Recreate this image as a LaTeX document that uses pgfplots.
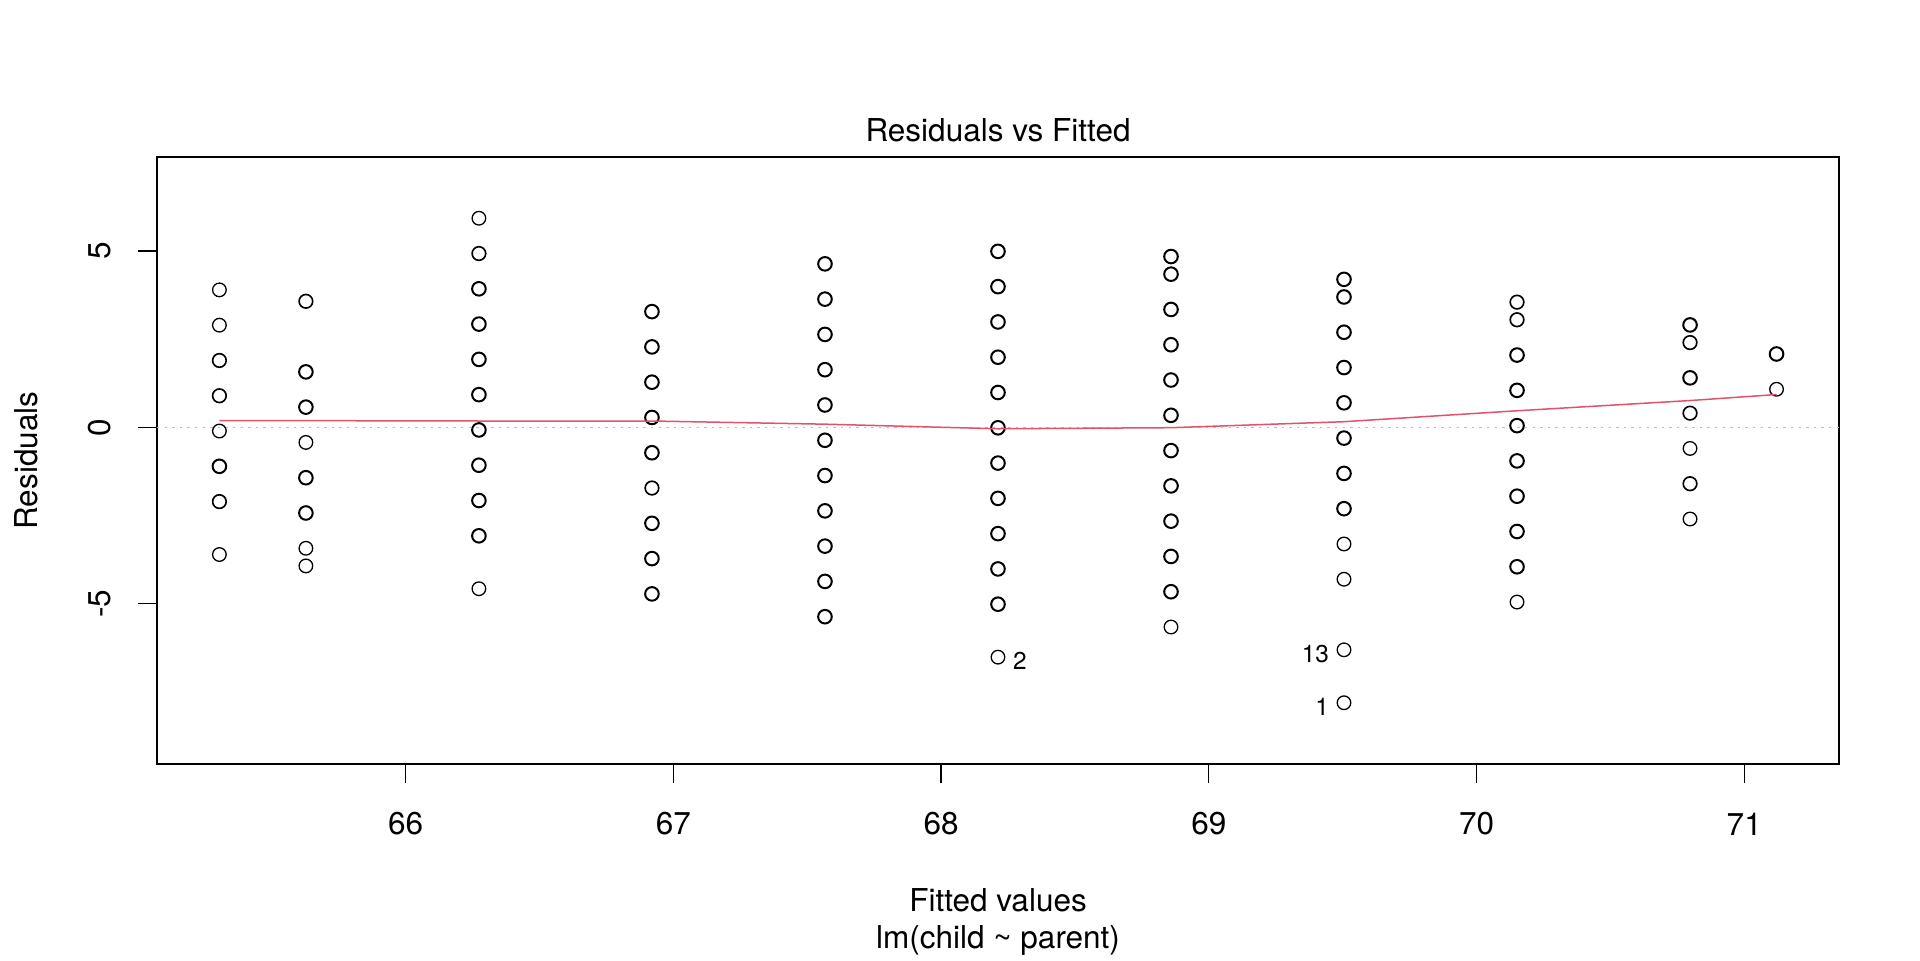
\documentclass[border=0pt]{standalone}
\usepackage{fontspec}
\setmainfont{TeX Gyre Heros}
\usepackage{pgfplots}
\usepackage{pgfplotstable}
\pgfplotsset{compat=1.18}

\definecolor{rred}{HTML}{DF536B}
\definecolor{rgray}{HTML}{BEBEBE}
\newcommand\rfont{\fontsize{15.75}{18.9}\selectfont}
\newcommand\idfont{\fontsize{12.2}{14.5}\selectfont}

% x = fitted value, y = residual, n = number of overplotted points
\pgfplotstableread{
x y n
65.3041 3.8959 1
65.3041 2.8959 1
65.3041 1.8959 2
65.3041 0.8959 2
65.3041 -0.1041 1
65.3041 -1.1041 4
65.3041 -2.1041 2
65.3041 -3.6041 1
65.6272 3.5728 2
65.6272 1.5728 5
65.6272 0.5728 5
65.6272 -0.4272 1
65.6272 -1.4272 4
65.6272 -2.4272 4
65.6272 -3.4272 1
65.6272 -3.9272 1
66.2735 5.9265 1
66.2735 4.9265 2
66.2735 3.9265 5
66.2735 2.9265 7
66.2735 1.9265 7
66.2735 0.9265 11
66.2735 -0.0735 11
66.2735 -1.0735 7
66.2735 -2.0735 5
66.2735 -3.0735 9
66.2735 -4.5735 1
66.9198 3.2802 4
66.9198 2.2802 13
66.9198 1.2802 14
66.9198 0.2802 17
66.9198 -0.7198 17
66.9198 -1.7198 2
66.9198 -2.7198 5
66.9198 -3.7198 3
66.9198 -4.7198 3
67.5661 4.6339 4
67.5661 3.6339 11
67.5661 2.6339 19
67.5661 1.6339 38
67.5661 0.6339 28
67.5661 -0.3661 38
67.5661 -1.3661 36
67.5661 -2.3661 15
67.5661 -3.3661 14
67.5661 -4.3661 5
67.5661 -5.3661 3
68.2124 4.9876 3
68.2124 3.9876 4
68.2124 2.9876 18
68.2124 1.9876 21
68.2124 0.9876 48
68.2124 -0.0124 34
68.2124 -1.0124 31
68.2124 -2.0124 25
68.2124 -3.0124 16
68.2124 -4.0124 11
68.2124 -5.0124 7
68.2124 -6.5124 1
68.8587 4.8413 5
68.8587 4.3413 4
68.8587 3.3413 11
68.8587 2.3413 20
68.8587 1.3413 25
68.8587 0.3413 33
68.8587 -0.6587 20
68.8587 -1.6587 27
68.8587 -2.6587 17
68.8587 -3.6587 4
68.8587 -4.6587 16
68.8587 -5.6587 1
69.5049 4.1951 3
69.5049 3.6951 3
69.5049 2.6951 4
69.5049 1.6951 7
69.5049 0.6951 14
69.5049 -0.3049 18
69.5049 -1.3049 12
69.5049 -2.3049 3
69.5049 -3.3049 1
69.5049 -4.3049 1
69.5049 -6.3049 1
69.5049 -7.8049 1
70.1512 3.5488 2
70.1512 3.0488 2
70.1512 2.0488 9
70.1512 1.0488 4
70.1512 0.0488 10
70.1512 -0.9512 5
70.1512 -1.9512 3
70.1512 -2.9512 4
70.1512 -3.9512 3
70.1512 -4.9512 1
70.7975 2.9025 4
70.7975 2.4025 2
70.7975 1.4025 7
70.7975 0.4025 2
70.7975 -0.5975 1
70.7975 -1.5975 2
70.7975 -2.5975 1
71.1206 2.0794 3
71.1206 1.0794 1
}\resid

% smoother
\pgfplotstableread{
x y
65.3041 0.19
65.6272 0.19
66.2735 0.18
66.9198 0.18
67.5661 0.09
68.2124 -0.04
68.8587 -0.01
69.5049 0.16
70.1512 0.47
70.7975 0.76
71.1206 0.93
}\smooth

\begin{document}
\begin{tikzpicture}
\path[use as bounding box] (0,0) rectangle (960pt,480pt);
\begin{axis}[
  at={(78.5pt,98pt)}, anchor=south west,
  scale only axis, width=841pt, height=303.5pt,
  xmin=65.071, xmax=71.354, ymin=-9.541, ymax=7.662,
  xtick={66,67,68,69,70,71}, ytick={-5,0,5},
  tick align=outside, major tick length=9.5pt,
  xtick pos=bottom, ytick pos=left,
  axis line style={black, line width=0.65pt},
  every tick/.style={black, line width=0.65pt},
  /pgf/number format/assume math mode=true,
  tick label style={font=\rfont},
  xticklabel style={anchor=center, yshift=-20.5pt},
  yticklabel style={rotate=90, anchor=center, yshift=19pt},
  clip mode=individual,
  mark size=3.4pt,
]
\draw[rgray, line width=0.7pt, dash pattern=on 1.2pt off 2.6pt]
  (axis cs:65.071,0) -- (axis cs:71.354,0);
\addplot[only marks, mark=o, black, mark options={line width=0.65pt}]
  table[x=x, y=y, restrict expr to domain={\thisrow{n}}{1:1}] {\resid};
\addplot[only marks, mark=o, black, mark options={line width=0.82pt}]
  table[x=x, y=y, restrict expr to domain={\thisrow{n}}{2:2}] {\resid};
\addplot[only marks, mark=o, black, mark options={line width=1.0pt}]
  table[x=x, y=y, restrict expr to domain={\thisrow{n}}{3:100}] {\resid};
\addplot[rred, line width=0.75pt, no marks] table[x=x, y=y] {\smooth};
\node[font=\idfont, anchor=west, xshift=4pt, yshift=-2pt] at (axis cs:68.2124,-6.5124) {2};
\node[font=\idfont, anchor=east, xshift=-4pt, yshift=-2pt] at (axis cs:69.5049,-6.3049) {13};
\node[font=\idfont, anchor=east, xshift=-4pt, yshift=-2pt] at (axis cs:69.5049,-7.8049) {1};
\end{axis}
\node[font=\rfont, anchor=base] at (499pt,409pt) {Residuals vs Fitted};
\node[font=\rfont, anchor=base] at (499pt,24.5pt) {Fitted values};
\node[font=\rfont, anchor=base] at (499pt,6pt) {lm(child \textasciitilde{} parent)};
\node[font=\rfont, anchor=base, rotate=90] at (18.5pt,249.75pt) {Residuals};
\end{tikzpicture}
\end{document}
